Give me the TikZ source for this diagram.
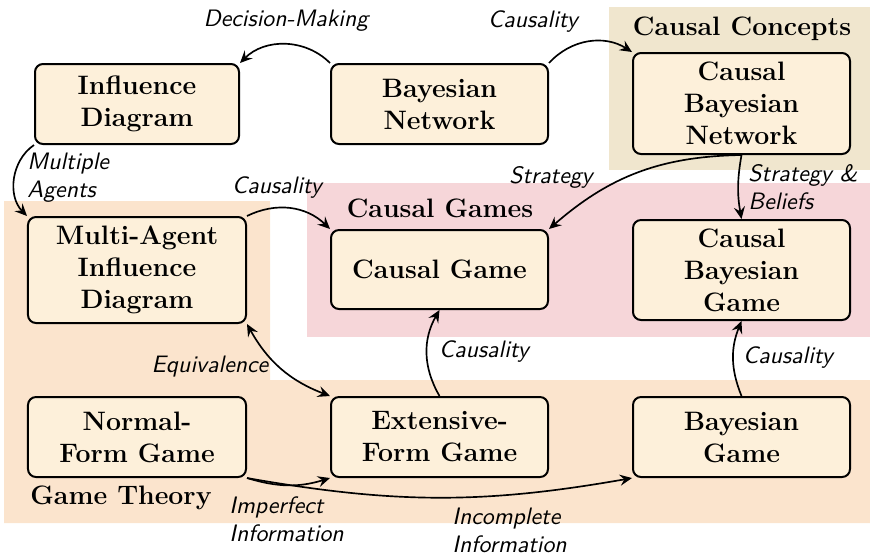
\documentclass[tikz,border=0pt]{standalone}
\usetikzlibrary{arrows.meta}
\definecolor{nodefill}{HTML}{FDF0DA}
\definecolor{conceptbg}{HTML}{F0E6CE}
\definecolor{gamesbg}{HTML}{F6D6D9}
\definecolor{theorybg}{HTML}{FBE4CD}
\begin{document}
\begin{tikzpicture}[x=0.45pt,y=-0.45pt,
  box/.style={draw=black,line width=0.9pt,fill=nodefill,rounded corners=3.6pt,
    align=center,font=\fontsize{12}{14.4}\selectfont\bfseries,inner sep=2pt},
  grouptitle/.style={font=\fontsize{12}{14.4}\selectfont\bfseries,inner sep=0pt},
  elabel/.style={font=\fontsize{10.7}{12.6}\selectfont\sffamily\itshape,inner sep=0pt,align=left},
  arr/.style={line width=0.75pt,-{Stealth[length=5.5pt,width=5pt,inset=2pt]}},
  arrboth/.style={line width=0.75pt,{Stealth[length=5.5pt,width=5pt,inset=2pt]}-{Stealth[length=5.5pt,width=5pt,inset=2pt]}}]
\useasboundingbox (0,0) rectangle (870,555);
% backgrounds
\fill[conceptbg] (609,7) rectangle (870,170);
\fill[gamesbg] (307,183) rectangle (870,337);
\fill[theorybg] (4,201) -- (270,201) -- (270,380) -- (870,380) -- (870,523) -- (4,523) -- cycle;
% group titles
\node[grouptitle] (tconcepts) at (742,29) {Causal Concepts};
\node[grouptitle] (tgames) at (440,208) {Causal Games};
\node[grouptitle] (ttheory) at (121,498) {Game Theory};
% nodes
\node[box,minimum width=91.8pt,minimum height=36pt] (id) at (137,104) {Influence\\Diagram};
\node[box,minimum width=97.65pt,minimum height=36pt] (bn) at (439.5,104) {Bayesian\\Network};
\node[box,minimum width=97.65pt,minimum height=45.45pt] (cbn) at (741.5,103.5) {Causal\\Bayesian\\Network};
\node[box,minimum width=98.1pt,minimum height=47.7pt] (maid) at (137,270) {Multi-Agent\\Influence\\Diagram};
\node[box,minimum width=97.65pt,minimum height=35.55pt] (cg) at (439.5,269.5) {Causal Game};
\node[box,minimum width=97.65pt,minimum height=45pt] (cbg) at (741.5,270) {Causal\\Bayesian\\Game};
\node[box,minimum width=98.1pt,minimum height=36pt] (nfg) at (137,437) {Normal-\\Form Game};
\node[box,minimum width=97.65pt,minimum height=36pt] (efg) at (439.5,437) {Extensive-\\Form Game};
\node[box,minimum width=97.65pt,minimum height=36pt] (bg) at (741.5,437) {Bayesian\\Game};
% connectors
\draw[arr] (bn.north west) to[bend right=45] (id.north east);
\draw[arr] (bn.north east) to[bend left=40] (cbn.north west);
\draw[arr] (id.south west) to[bend right=50] (maid.north west);
\draw[arr] (maid.north east) to[bend left=35] (cg.north west);
\draw[arr] (cbn.south) to[bend right=20] (cg.north east);
\draw[arr] (cbn.south) to[bend right=10] (cbg.north);
\draw[arrboth] (maid.south east) to[bend right=20] (efg.north west);
\draw[arr] (efg.north) to[bend left=30] (cg.south);
\draw[arr] (bg.north) to[bend left=22] (cbg.south);
\draw[arr] (nfg.south east) to[bend right=17] (efg.south west);
\draw[arr] (nfg.south east) to[bend right=10] (bg.south west);
% edge labels
\node[elabel] (ldm) at (286,21) {Decision-Making};
\node[elabel] (lc1) at (533,22) {Causality};
\node[elabel,anchor=west] (lma) at (27,178) {Multiple\\Agents};
\node[elabel] (lc2) at (277,188) {Causality};
\node[elabel] (lst) at (551,177) {Strategy};
\node[elabel,anchor=west] (lsb) at (748,187.5) {Strategy \&\\Beliefs};
\node[elabel] (leq) at (210,367) {Equivalence};
\node[elabel] (lc3) at (484,352) {Causality};
\node[elabel] (lc4) at (788,358) {Causality};
\node[elabel,anchor=west] (lii) at (229,519.5) {Imperfect\\Information};
\node[elabel,anchor=west] (lci) at (452,530.5) {Incomplete\\Information};
\end{tikzpicture}
\end{document}
